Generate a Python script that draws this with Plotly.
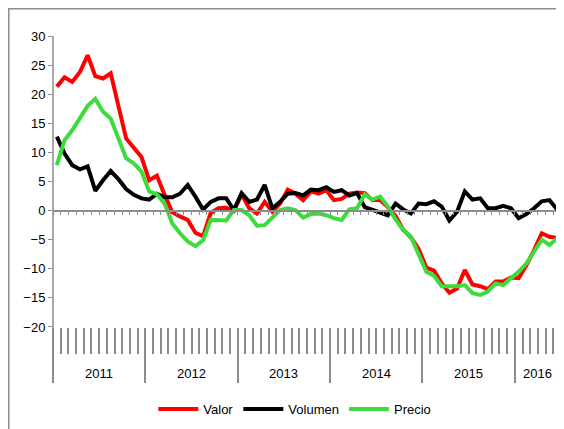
import plotly.graph_objects as go

years = ["2011", "2012", "2013", "2014", "2015", "2016"]
months_per_year = [12, 12, 12, 12, 12, 6]

valor = [21.3, 22.9, 22.1, 23.8, 26.7, 23.1, 22.7, 23.6, 18.0, 12.4, 10.8, 9.2,
         5.2, 6.0, 2.7, -0.3, -1.0, -1.6, -3.8, -4.4, -0.4, 0.4, 0.5, -0.1,
         2.8, 0.4, -0.5, 1.5, -0.2, 1.2, 3.6, 2.9, 1.8, 3.3, 2.9, 3.5,
         1.8, 2.0, 2.9, 3.1, 3.0, 1.8, 1.8, 0.6, -0.9, -3.3, -4.6, -6.6,
         -9.8, -10.3, -12.5, -14.1, -13.4, -10.2, -12.7, -13.0, -13.5, -12.2, -12.2, -11.5,
         -11.6, -9.4, -6.8, -3.9, -4.5, -4.7]

volumen = [12.7, 9.8, 7.8, 7.1, 7.6, 3.4, 5.2, 6.8, 5.4, 3.7, 2.7, 2.1,
           1.9, 2.9, 2.3, 2.3, 2.9, 4.4, 2.4, 0.2, 1.5, 2.1, 2.1, 0.1,
           3.0, 1.5, 1.9, 4.4, 0.4, 1.5, 2.9, 3.0, 2.6, 3.6, 3.5, 4.0,
           3.2, 3.5, 2.6, 3.0, 0.6, 0.1, -0.3, -0.8, 1.2, 0.2, -0.5, 1.2,
           1.1, 1.6, 0.7, -1.7, -0.2, 3.3, 1.9, 2.1, 0.4, 0.4, 0.8, 0.4,
           -1.3, -0.6, 0.4, 1.6, 1.8, 0.2]

precio = [7.8, 12.1, 13.8, 15.9, 18.0, 19.2, 17.0, 15.8, 12.4, 9.0, 8.1, 6.7,
          3.3, 2.8, 1.2, -2.2, -3.9, -5.3, -6.1, -5.1, -1.6, -1.6, -1.7, 0.1,
          0.1, -0.8, -2.6, -2.5, -1.3, 0.1, 0.4, 0.1, -1.2, -0.6, -0.5, -0.8,
          -1.3, -1.6, 0.2, 0.4, 2.8, 1.9, 2.4, 0.7, -1.5, -3.3, -4.5, -7.4,
          -10.5, -11.2, -13.0, -13.0, -13.0, -12.8, -14.2, -14.5, -13.9, -12.5, -12.8, -11.6,
          -10.5, -9.1, -7.2, -5.0, -5.9, -4.8]

n = len(valor)
x = list(range(n))

# derived category boundaries
year_bounds = [-0.5]
for m in months_per_year:
    year_bounds.append(year_bounds[-1] + m)
all_bounds = [i - 0.5 for i in range(n + 1)]
month_bounds = [b for b in all_bounds if b not in year_bounds]
year_centers = [(year_bounds[i] + year_bounds[i + 1]) / 2 for i in range(len(years))]

FONT = "Liberation Sans, Arial, sans-serif"
GRAY = "#8c8c8c"
ydom0 = 0.159
yzero = ydom0 + (0 - (-20)) / 50 * (1 - ydom0)

fig = go.Figure()
series = [("Valor", valor, "#ff0000"), ("Volumen", volumen, "#000000"), ("Precio", precio, "#3ddc3d")]
for name, vals, col in series:
    fig.add_trace(go.Scatter(x=x, y=vals, mode="lines", name=name,
                             line=dict(color=col, width=4)))

# helper traces for the category decoration axes
fig.add_trace(go.Scatter(x=[0], y=[None], xaxis="x2", showlegend=False, hoverinfo="skip"))
fig.add_trace(go.Scatter(x=[0], y=[None], xaxis="x3", showlegend=False, hoverinfo="skip"))

for i, yr in enumerate(years):
    fig.add_annotation(x=year_centers[i], y=(382 - 373) / 346, xref="x", yref="paper",
                       text=yr, showarrow=False, font=dict(family=FONT, size=13, color="#000"),
                       yanchor="middle")

fig.add_shape(type="line", xref="paper", yref="paper", x0=0, x1=0, y0=0, y1=1,
              line=dict(color=GRAY, width=1.5))
fig.add_shape(type="rect", xref="paper", yref="paper", x0=(0.8 - 45) / 508, x1=1.2,
              y0=-0.3, y1=(374 - 0.8) / 346, line=dict(color=GRAY, width=1.5))

fig.update_layout(
    width=556, height=421,
    margin=dict(l=45, r=3, t=28, b=47),
    paper_bgcolor="white", plot_bgcolor="white",
    font=dict(family=FONT, size=13, color="#000"),
    showlegend=True,
    legend=dict(orientation="h", x=0.476, xanchor="center", y=(382 - 409) / 346,
                yanchor="middle", font=dict(family=FONT, size=13), itemwidth=40,
                bgcolor="rgba(0,0,0,0)"),
    xaxis=dict(range=[-0.5, n - 0.5], domain=[0, 1], anchor="free", position=yzero,
               showline=True, linecolor=GRAY, linewidth=1.5, ticks="outside", ticklen=4,
               tickcolor=GRAY, tickmode="array", tickvals=all_bounds, showticklabels=False,
               showgrid=False, zeroline=False),
    xaxis2=dict(range=[-0.5, n - 0.5], overlaying="x", anchor="free", position=ydom0,
                showline=False, ticks="outside", ticklen=26, tickwidth=1.5, tickcolor=GRAY,
                tickmode="array", tickvals=month_bounds, showticklabels=False,
                showgrid=False, zeroline=False),
    xaxis3=dict(range=[-0.5, n - 0.5], overlaying="x", anchor="free", position=ydom0,
                showline=False, ticks="outside", ticklen=55, tickwidth=1.5, tickcolor=GRAY,
                tickmode="array", tickvals=year_bounds, showticklabels=False,
                showgrid=False, zeroline=False),
    yaxis=dict(range=[-20, 30], domain=[ydom0, 1], dtick=5, ticks="outside", ticklen=4,
               tickcolor=GRAY, showline=False, showgrid=False, zeroline=False,
               tickfont=dict(family=FONT, size=13)),
)

fig.write_html("out.html")
